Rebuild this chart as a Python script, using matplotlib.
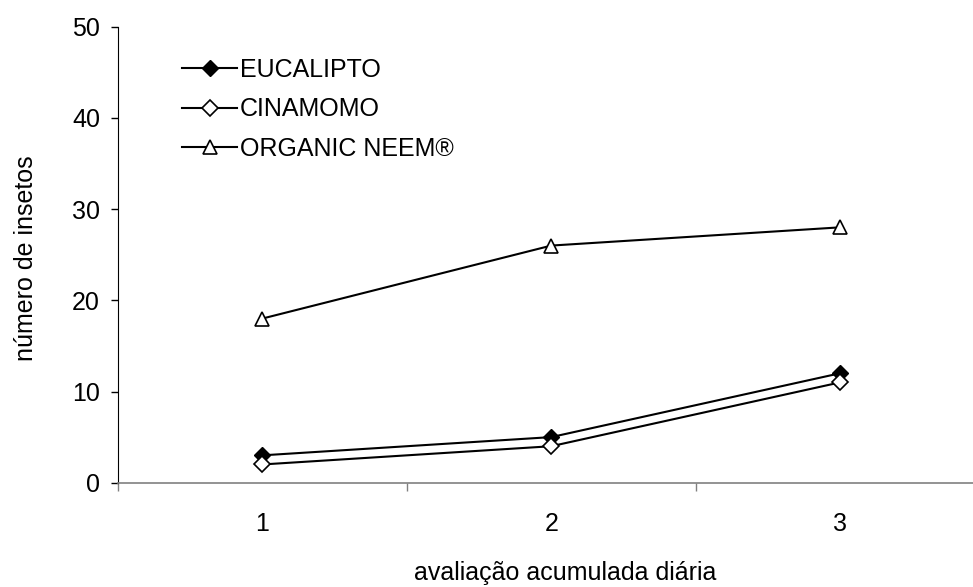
import matplotlib.pyplot as plt

# ---------------- DATA ----------------
dias = [1, 2, 3]
eucalipto = [3, 5, 12]
cinamomo = [2, 4, 11]
neem = [18, 26, 28]
y_ticks = [0, 10, 20, 30, 40, 50]

plt.rcParams['font.family'] = ['Liberation Sans', 'DejaVu Sans']

W, H = 973, 587
fig = plt.figure(figsize=(W / 100, H / 100), dpi=100)
# plot area runs past the right edge, as in the source
ax = fig.add_axes([118 / W, 104.3 / H, 866.5 / W, 456 / H])

ax.plot(dias, eucalipto, color='black', lw=1.5, marker='D', ms=8,
        mfc='black', mec='black', label='EUCALIPTO')
ax.plot(dias, cinamomo, color='black', lw=1.5, marker='D', ms=8,
        mfc='white', mec='black', mew=1.2, label='CINAMOMO')
ax.plot(dias, neem, color='black', lw=1.5, marker='^', ms=10,
        mfc='white', mec='black', mew=1.2, label='ORGANIC NEEM®')

ax.set_xlim(0.5, 3.5)
ax.set_ylim(0, 50)
ax.set_yticks(y_ticks)
ax.set_xticks(dias)
ax.set_xticks([0.5, 1.5, 2.5, 3.5], minor=True)

for s in ['top', 'right']:
    ax.spines[s].set_visible(False)
ax.spines['left'].set_color('black')
ax.spines['bottom'].set_color('#808080')
ax.spines['bottom'].set_linewidth(1.2)

ax.tick_params(axis='y', direction='out', length=5, width=1, pad=8,
               labelsize=18, colors='black')
ax.tick_params(axis='x', which='major', length=0, pad=21, labelsize=18)
ax.tick_params(axis='x', which='minor', direction='out', length=6,
               width=1, color='#808080')

leg = ax.legend(loc='upper left', bbox_to_anchor=(0.0739, 0.932),
                frameon=False, fontsize=18, handlelength=2.2,
                handletextpad=0.12, labelspacing=0.63, borderpad=0,
                borderaxespad=0)

fig.text(26 / W, 1 - 258 / H, 'número de insetos', rotation=90,
         ha='center', va='center', fontsize=18)
fig.text(565 / W, 1 - 573 / H, 'avaliação acumulada diária',
         ha='center', va='center', fontsize=18)

fig.savefig('out.png', dpi=100)
